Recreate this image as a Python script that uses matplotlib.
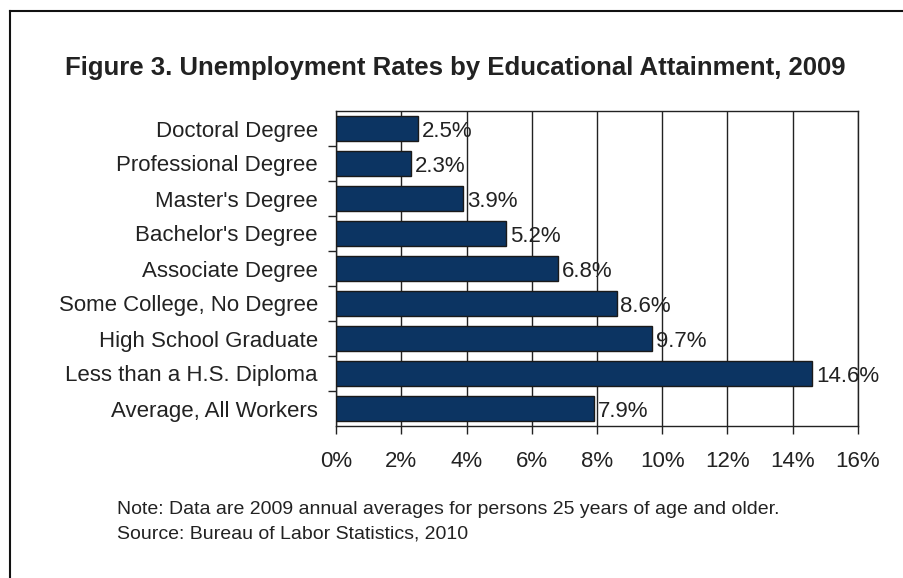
import matplotlib.pyplot as plt
from matplotlib.lines import Line2D

plt.rcParams['font.family'] = ['Liberation Sans', 'DejaVu Sans']

categories = ['Doctoral Degree', 'Professional Degree', "Master's Degree",
              "Bachelor's Degree", 'Associate Degree', 'Some College, No Degree',
              'High School Graduate', 'Less than a H.S. Diploma', 'Average, All Workers']
rates = [2.5, 2.3, 3.9, 5.2, 6.8, 8.6, 9.7, 14.6, 7.9]
xticks = [0, 2, 4, 6, 8, 10, 12, 14, 16]

bar_color = '#0c3462'
text_color = '#222222'

fig = plt.figure(figsize=(9.04, 5.78), dpi=100)
ax = fig.add_axes([336 / 904, 1 - 426 / 578, (858 - 336) / 904, (426 - 111) / 578])

ypos = list(range(len(categories)))
bars = ax.barh(ypos, rates, height=0.69, color=bar_color, edgecolor='#1a1a1a',
               linewidth=1.0, zorder=3)
for rect, v in zip(bars, rates):
    ax.text(rect.get_width() + 0.12, rect.get_y() + rect.get_height() / 2 + 0.08,
            '%.1f%%' % v, va='center', ha='left', fontsize=16, color=text_color,
            zorder=4)

ax.set_ylim(len(categories) - 0.5, -0.5)
ax.set_xlim(0, 16)
ax.set_yticks([y + 0.5 for y in ypos[:-1]], minor=False)
ax.set_yticks(ypos, minor=True)
ax.set_yticklabels([])
ax.set_yticklabels(categories, minor=True, fontsize=16, color=text_color)
ax.tick_params(axis='y', which='minor', length=0, pad=13)
ax.tick_params(axis='y', which='major', length=6, width=1, color='#222222', direction='out')
ax.set_xticks(xticks)
ax.set_xticklabels(['%d%%' % t for t in xticks], fontsize=16, color=text_color)
ax.tick_params(axis='x', length=6, width=1, color='#222222', direction='out', pad=12)
ax.grid(axis='x', color='#222222', linewidth=1.0, zorder=0)
for s in ax.spines.values():
    s.set_color('#222222')
    s.set_linewidth(1.0)

fig.text(455 / 904, 1 - 68 / 578, 'Figure 3. Unemployment Rates by Educational Attainment, 2009',
         ha='center', va='center', fontsize=18.5, fontweight='bold', color=text_color)
fig.text(117 / 904, 1 - 509 / 578,
         'Note: Data are 2009 annual averages for persons 25 years of age and older.',
         ha='left', va='center', fontsize=14, color=text_color)
fig.text(117 / 904, 1 - 534 / 578, 'Source: Bureau of Labor Statistics, 2010',
         ha='left', va='center', fontsize=14, color=text_color)

# outer frame (left and top edges visible)
fig.add_artist(Line2D([10 / 904, 10 / 904], [0, 1 - 11 / 578], transform=fig.transFigure,
                      color='#111111', linewidth=1.5))
fig.add_artist(Line2D([10 / 904, 1], [1 - 11 / 578, 1 - 11 / 578], transform=fig.transFigure,
                      color='#111111', linewidth=1.5))

fig.savefig('out.png', dpi=100)
